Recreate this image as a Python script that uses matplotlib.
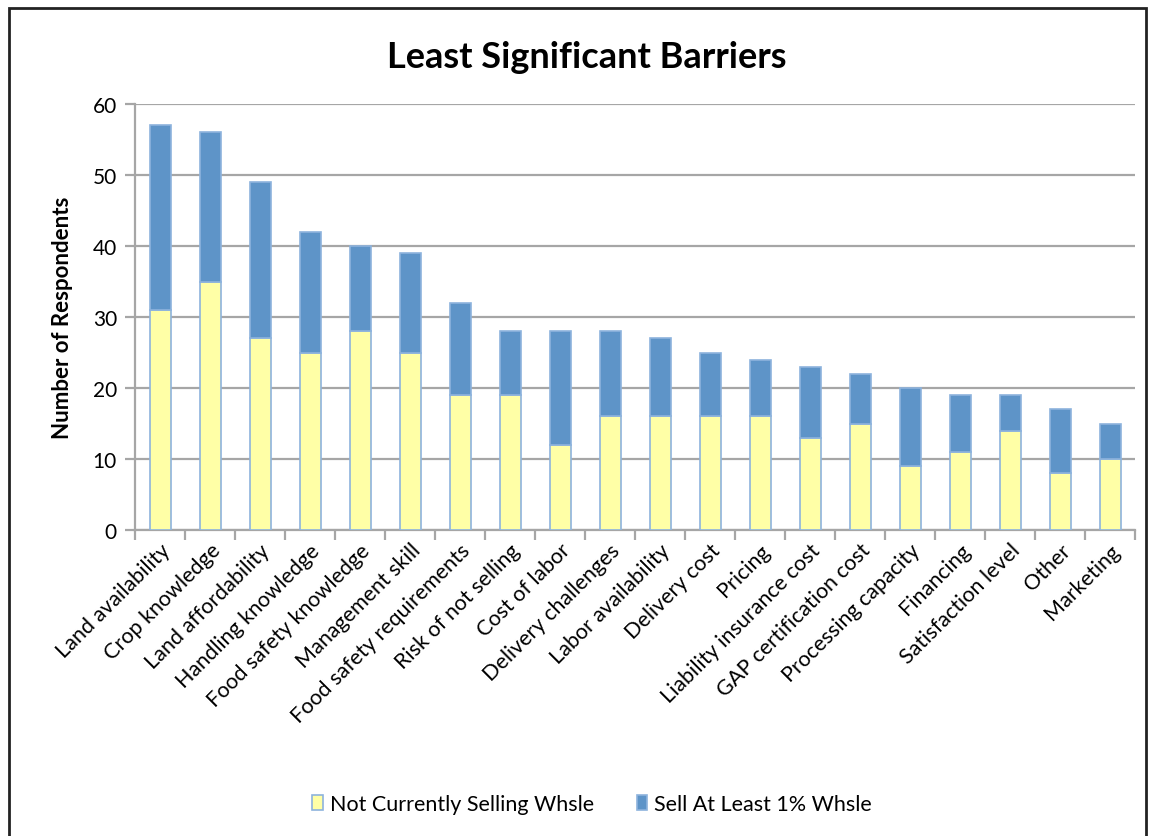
import numpy as np
import matplotlib
matplotlib.use("Agg")
import matplotlib.pyplot as plt
from matplotlib.patches import Rectangle

plt.rcParams['font.family'] = ['Lato', 'DejaVu Sans']

categories = ["Land availability", "Crop knowledge", "Land affordability",
              "Handling knowledge", "Food safety knowledge", "Management skill",
              "Food safety requirements", "Risk of not selling", "Cost of labor",
              "Delivery challenges", "Labor availability", "Delivery cost",
              "Pricing", "Liability insurance cost", "GAP certification cost",
              "Processing capacity", "Financing", "Satisfaction level",
              "Other", "Marketing"]
not_selling = [31, 35, 27, 25, 28, 25, 19, 19, 12, 16, 16, 16, 16, 13, 15, 9, 11, 14, 8, 10]
sell_1pct = [26, 21, 22, 17, 12, 14, 13, 9, 16, 12, 11, 9, 8, 10, 7, 11, 8, 5, 9, 5]

yellow = "#FFFFA6"
blue = "#5E94C8"
edge = "#8DB3DD"
grid = "#A6A6A6"

fig = plt.figure(figsize=(11.55, 8.37), dpi=100)
ax = fig.add_axes([135 / 1155, 1 - 531 / 837, 1000 / 1155, 426 / 837])

x = np.arange(len(categories))
ax.bar(x, not_selling, width=0.42, color=yellow, edgecolor=edge, linewidth=1.2,
       label="Not Currently Selling Whsle", zorder=3)
ax.bar(x, sell_1pct, bottom=not_selling, width=0.42, color=blue, edgecolor=edge,
       linewidth=1.2, label="Sell At Least 1% Whsle", zorder=3)

ax.set_xlim(-0.5, len(categories) - 0.5)
ax.set_ylim(0, 60)
ax.set_yticks(range(0, 61, 10))
ax.yaxis.grid(True, color=grid, linewidth=1.6)
ax.set_axisbelow(True)

for s in ["top", "right"]:
    ax.spines[s].set_visible(False)
for s in ["left", "bottom"]:
    ax.spines[s].set_color(grid)
    ax.spines[s].set_linewidth(1.6)

# category ticks sit between bars, labels centred under bars
ax.set_xticks(np.arange(-0.5, len(categories), 1.0))
ax.set_xticklabels([])
ax.set_xticks(x, minor=True)
ax.set_xticklabels(categories, minor=True, rotation=45, ha="right",
                   rotation_mode="anchor", fontsize=15.5)
ax.tick_params(axis="x", which="minor", length=0, pad=7)
ax.tick_params(axis="x", which="major", length=7, width=1.6, color=grid)
ax.tick_params(axis="y", length=7, width=1.6, color=grid, labelsize=15, pad=6)

ax.set_ylabel("Number of Respondents", fontsize=16, fontweight="bold", labelpad=14)
fig.text(587 / 1155, 1 - 57 / 837, "Least Significant Barriers", fontsize=26,
         fontweight="bold", ha="center", va="center")

fig.legend(loc="center", bbox_to_anchor=(592 / 1155, 1 - 805 / 837), ncol=2,
           frameon=False, fontsize=15.5, handlelength=0.5, handleheight=0.7,
           handletextpad=0.3, columnspacing=2.0)

fig.patches.append(Rectangle((9 / 1155, -0.05), 1137 / 1155, 1 - 9 / 837 + 0.05,
                             transform=fig.transFigure, fill=False,
                             edgecolor="#222222", linewidth=2))

fig.savefig("out.png", dpi=100)
